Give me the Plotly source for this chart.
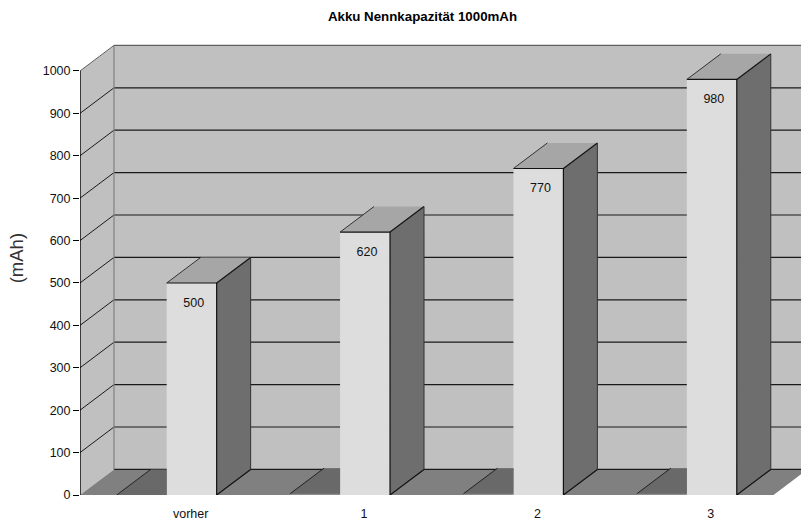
import plotly.graph_objects as go

# ---- data ----
categories = ["vorher", "1", "2", "3"]
capacity = [500, 620, 770, 980]
empty_series = [0, 3, 3, 3]
y_ticks = [0, 100, 200, 300, 400, 500, 600, 700, 800, 900, 1000]
title_text = "<b>Akku Nennkapazität 1000mAh</b>"
y_title = "(mAh)"

# ---- geometry (pixels -> axis units) ----
W, H = 801, 521
L, T, B = 79.5, 40, 25.5
PX_CAT = 173.5
PX_VAL = 0.4245
xmax = (W - L) / PX_CAT
ymax = (H - B - T) / PX_VAL
DX = 34 / PX_CAT      # oblique depth, x units
DY = 25.6 / PX_VAL    # oblique depth, y units
BW = 50 / PX_CAT      # bar width
n = len(categories)
centres = [i + 0.5 for i in range(n)]
right_centres = [c + BW / 2 for c in centres]
left_centres = [c - BW / 2 for c in centres]

WALL = "#C0C0C0"
FLOOR = "#808080"
FRONT = "#DDDDDD"
LOW_FRONT = "#8C8C8C"
TOP = "#A6A6A6"
SIDE = "#6E6E6E"
PATCH = "#696969"
GRID = "#1a1a1a"
EDGE = "#808080"
RIM = "#606060"
TEXT = "#111111"


def poly(pts):
    d = "M " + " L ".join(f"{x},{y}" for x, y in pts) + " Z"
    return d


shapes = [
    dict(type="path", path=poly([(DX, DY), (n + DX, DY), (n + DX, 1000 + DY), (DX, 1000 + DY)]),
         fillcolor=WALL, line_width=0, layer="below"),
    dict(type="path", path=poly([(0, 0), (DX, DY), (DX, 1000 + DY), (0, 1000)]),
         fillcolor=WALL, line_width=0, layer="below"),
    dict(type="path", path=poly([(0, 0), (DX, DY), (n + DX, DY), (n, 0)]),
         fillcolor=FLOOR, line_width=0, layer="below"),
]
for v in y_ticks[1:]:
    colour = RIM if v == 1000 else GRID
    shapes.append(dict(type="line", x0=0, y0=v, x1=DX, y1=v + DY,
                       line=dict(color=colour, width=1), layer="below"))
    shapes.append(dict(type="line", x0=DX, y0=v + DY, x1=n + DX, y1=v + DY,
                       line=dict(color=colour, width=1.2), layer="below"))
shapes.append(dict(type="line", x0=DX, y0=DY, x1=n + DX, y1=DY,
                   line=dict(color=GRID, width=1.2), layer="below"))
shapes.append(dict(type="line", x0=DX, y0=DY, x1=DX, y1=1000 + DY,
                   line=dict(color=EDGE, width=1.2), layer="below"))

fig = go.Figure()

fig.add_trace(go.Bar(x=centres, y=empty_series, marker_color=LOW_FRONT, marker_line_width=0,
                     hoverinfo="skip", showlegend=False))
fig.add_trace(go.Bar(x=centres, y=capacity, marker_color=FRONT, marker_line_width=0,
                     showlegend=False))


def face(xs, ys, colour):
    fig.add_trace(go.Scatter(x=xs, y=ys, mode="lines", fill="toself", fillcolor=colour,
                             line_width=0, hoverinfo="skip", showlegend=False))


def edge(xs, ys, colour="#111111", width=1.2, clip=True):
    fig.add_trace(go.Scatter(x=xs, y=ys, mode="lines", line=dict(color=colour, width=width),
                             cliponaxis=clip, hoverinfo="skip", showlegend=False))


# top faces of the near-empty series lying on the floor, hidden behind the next bar
for c, v in zip(left_centres, empty_series):
    x0, x1 = c - BW / 2, c + BW / 2
    face([x0, x0 + DX, x1, x1], [v, v + DY, v + DY, v], PATCH)
    edge([x0, x0 + DX], [v, v + DY], "#222222", 1)

# 3D faces of the value series
for c, v in zip(right_centres, capacity):
    x0, x1 = c - BW / 2, c + BW / 2
    face([x1, x1 + DX, x1 + DX, x1], [0, DY, v + DY, v], SIDE)
    face([x0, x0 + DX, x1 + DX, x1], [v, v + DY, v + DY, v], TOP)
    edge([x0, x1, x1], [v, v, 0])
    edge([x0, x0 + DX], [v, v + DY], "#333333", 1)
    edge([x1, x1 + DX], [v, v + DY])
    edge([x1, x1 + DX], [0, DY])
    edge([x1 + DX, x1 + DX], [DY, v + DY], "#333333", 1)

# value axis line stops at the top tick
edge([0, 0], [y_ticks[0], y_ticks[-1]], "#000000", 1.4, clip=False)

# value labels inside the bar fronts
fig.add_trace(go.Scatter(x=[c + 2 / PX_CAT for c in right_centres],
                         y=[v - 20.5 / PX_VAL for v in capacity],
                         mode="text", text=[str(v) for v in capacity],
                         textposition="middle center",
                         textfont=dict(family="Liberation Sans", size=12.5, color=TEXT),
                         hoverinfo="skip", showlegend=False))

fig.update_layout(
    width=W, height=H,
    margin=dict(l=L, r=0, t=T, b=B, pad=0, autoexpand=False),
    paper_bgcolor="white", plot_bgcolor="white",
    barmode="group", bargap=1 - 2 * BW, bargroupgap=0,
    shapes=shapes,
    font=dict(family="Liberation Sans", color=TEXT),
    title=dict(text=title_text, x=422.5 / W, xanchor="center", y=1 - 16 / H, yanchor="middle",
               font=dict(family="Liberation Sans", size=13.3, color="#000000")),
    xaxis=dict(range=[0, xmax], tickmode="array", tickvals=[c - 1 / PX_CAT for c in right_centres],
               ticktext=categories, ticks="", showgrid=False, zeroline=False, showline=False,
               ticklabelstandoff=9, tickfont=dict(size=12.5, color=TEXT)),
    yaxis=dict(range=[0, ymax], tickmode="array", tickvals=y_ticks, ticks="outside", ticklen=6,
               tickcolor="#000000", tickwidth=1.2, showgrid=False, zeroline=False,
               showline=False,
               tickfont=dict(size=12.5, color=TEXT)),
    annotations=[dict(text=y_title, xref="paper", yref="paper", xanchor="center", yanchor="middle",
                      x=(16 - L) / (W - L), y=(H - B - 259) / (H - B - T), textangle=-90,
                      showarrow=False, font=dict(size=18.5, color="#333333"))],
)

fig.write_html("out.html", post_script="document.body.style.margin='0';",
               config={"displayModeBar": False})
